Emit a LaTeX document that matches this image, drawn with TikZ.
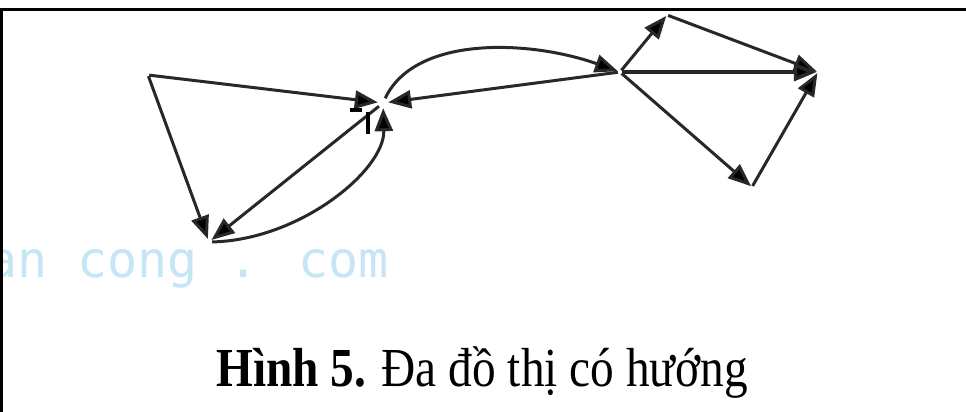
\documentclass[tikz,border=0pt]{standalone}
\usepackage{fontspec}
\setmainfont{Liberation Serif}
\newfontfamily\wmfont{DejaVu Sans Mono}
\usetikzlibrary{arrows.meta}
\definecolor{wm}{RGB}{198,229,245}
\definecolor{edgecol}{RGB}{40,40,40}
\begin{document}
\begin{tikzpicture}[x=1pt,y=-1pt,
  vtx/.style={circle,inner sep=0pt,minimum size=#1},
  edge/.style={draw=edgecol,line width=3pt,-{Triangle[length=23pt,width=18pt,fill=black]}},
  frame/.style={line width=3pt,draw=black}]
\useasboundingbox (0,0) rectangle (966,412);
\fill[white] (0,0) rectangle (966,412);
% watermark
\node[anchor=base west,inner sep=0pt,text=wm,font=\wmfont\fontsize{50}{50}\selectfont] (wmark) at (-13,277) {an cong . com};
% frame
\draw[frame] (1.5,412) -- (1.5,9.5) -- (966,9.5);
% vertices
\node[vtx=2pt] (A) at (148,75) {};
\node[vtx=6pt] (B) at (209,242) {};
\node[vtx=10pt] (C) at (383,103) {};
\node[vtx=4pt] (D) at (620,72) {};
\node[vtx=2pt] (E) at (667,15) {};
\node[vtx=2pt] (F) at (818,72) {};
\node[vtx=2pt] (G) at (752,187) {};
% edges
\draw[edge] (A) -- (C);
\draw[edge] (A) -- (B);
\draw[edge] (C) -- (B);
\draw[edge] (B) .. controls (300,240) and (385,170) .. (C);
\draw[edge] (D) -- (C);
\draw[edge] (C) .. controls (415,35) and (530,40) .. (D);
\draw[edge] (D) -- (E);
\draw[edge] (E) -- (F);
\draw[edge,line width=3.6pt] (D) -- (F);
\draw[edge] (D) -- (G);
\draw[edge] (G) -- (F);
% stray marks near C
\draw[line width=3.5pt] (350,110) -- (362,110);
\draw[line width=3.5pt] (368,112) -- (368,134);
% caption
\node[anchor=base,inner sep=0pt,font=\fontsize{55}{55}\selectfont] (cap) at (482,386) {\scalebox{0.86}[1]{\textbf{Hình 5.} Đa đồ thị có hướng}};
\end{tikzpicture}
\end{document}
